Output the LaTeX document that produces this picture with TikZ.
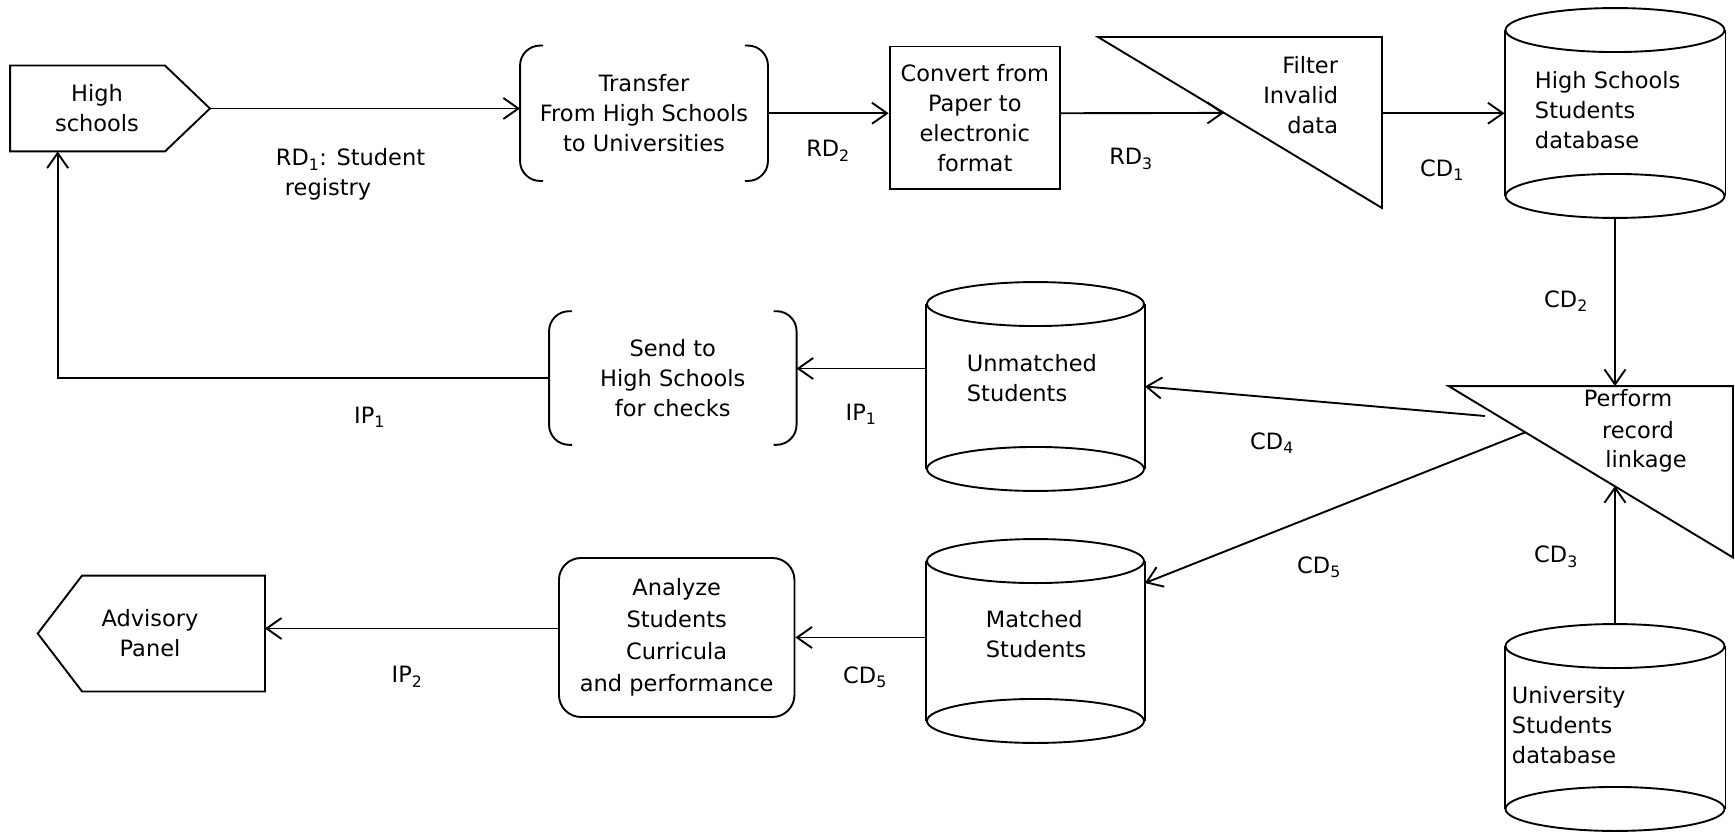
\documentclass[tikz,border=0pt]{standalone}
\usepackage{fontspec}
\setmainfont{DejaVu Sans}
\usetikzlibrary{arrows.meta,calc}
\begin{document}
\begin{tikzpicture}[x=1pt,y=-1pt,line width=1.9pt,
  every node/.style={font=\fontsize{22.5}{30}\selectfont,inner sep=0pt},
  arr/.style={-{Straight Barb[length=15pt,width=21pt,line width=1.9pt]}},
  shp/.style 2 args={minimum width=#1,minimum height=#2}]
\useasboundingbox (0,0) rectangle (1735,832);

% ---- shapes (named outlines) ----
\node[shp={198pt}{84pt}] (hs) at (110,108.5) {};
\node[shp={246pt}{133.5pt}] (tr) at (644,113.25) {};
\node[shp={170.4pt}{142.5pt},draw,align=center] (conv) at (974.8,117.75)
  {Convert from\\Paper to\\electronic\\format};
\node[shp={282pt}{169pt}] (filter) at (1240,122.5) {};
\node[shp={219pt}{164pt}] (hsdb) at (1615,113) {};
\node[shp={282.5pt}{169.5pt}] (perf) at (1590.75,471.75) {};
\node[shp={219pt}{161pt}] (unidb) at (1615,727.5) {};
\node[shp={217pt}{163pt}] (unm) at (1035.5,386.5) {};
\node[shp={217pt}{158pt}] (mat) at (1035.5,641) {};
\node[shp={245.6pt}{131.7pt},align=center] (send) at (672.8,378)
  {Send to\\High Schools\\for checks};
\node[shp={235.5pt}{159pt},draw,rounded corners=22pt,align=center,
  font=\fontsize{22.5}{32}\selectfont] (ana) at (676.7,637.5)
  {Analyze\\Students\\Curricula\\and performance};
\node[shp={228pt}{114pt},align=center] (adv) at (150,633.5) {Advisory\\Panel};

% external entities
\draw (hs.north west) -- ([xshift=-45pt]hs.north east) -- (hs.east)
  -- ([xshift=-45pt]hs.south east) -- (hs.south west) -- cycle;
\node[align=center] (hstext) at (97,108.5) {High\\schools};
\draw ([xshift=2.7pt]adv.west) -- ([xshift=47pt]adv.north west) -- (adv.north east)
  -- (adv.south east) -- ([xshift=47pt]adv.south west) -- cycle;

% bracketed processes
\foreach \n in {tr,send}{
  \draw[rounded corners=20pt] ([xshift=23pt]\n.north west) -- (\n.north west)
    -- (\n.south west) -- ([xshift=23pt]\n.south west);
  \draw[rounded corners=20pt] ([xshift=-23pt]\n.north east) -- (\n.north east)
    -- (\n.south east) -- ([xshift=-23pt]\n.south east);
}
\node[align=center] (trtext) at (644,113.25) {Transfer\\From High Schools\\to Universities};

% triangular processes
\foreach \n in {filter,perf}
  \draw (\n.north west) -- (\n.north east) -- (\n.south east) -- cycle;
\node[align=right,anchor=east] (filtertext) at (1339,95) {Filter\\Invalid\\data};
\node (pf1) at (1628,398) {Perform};
\node (pf2) at (1638,430) {record};
\node (pf3) at (1646,461) {linkage};

% data stores
\foreach \n/\r in {hsdb/109.5pt,unidb/109.5pt,unm/108.5pt,mat/108.5pt}{
  \draw (\n.north west) -- (\n.south west) (\n.north east) -- (\n.south east);
  \draw (\n.north) ellipse [x radius=\r,y radius=22pt];
  \draw (\n.south) ellipse [x radius=\r,y radius=22pt];
}
\node[align=left,anchor=west] (hsdbtext) at (1534,110) {High Schools\\Students\\database};
\node[align=left,anchor=west] (unmtext) at (966,378) {Unmatched\\Students};
\node[align=left,anchor=west] (mattext) at (985,634) {Matched\\Students};
\node[align=left,anchor=west] (unitext) at (1511,725) {University\\Students\\database};

% ---- connectors ----
\coordinate (fdiag) at ($(filter.north west)!0.4438!(filter.south east)$);
\coordinate (pdiag) at ($(perf.north west)!0.5835!(perf.south east)$);
\coordinate (mdiag) at ($(perf.north west)!0.27!(perf.south east)$);
\coordinate (ufree) at (1485,416);
\coordinate (corner) at ([xshift=47.6pt]hs.south west |- send.west);

\draw[arr] (hs.east) -- (hs.east -| tr.west);
\draw[arr] (tr.east) -- (tr.east -| conv.west);
\draw[arr] (tr.east -| conv.east) -- (fdiag);
\draw[arr] (tr.east -| filter.east) -- (tr.east -| hsdb.west);
\draw[arr] ([yshift=-22pt]hsdb.south) -- (hsdb.south |- perf.north);
\draw[arr] ([yshift=22pt]unidb.north) -- (unidb.north |- pdiag);
\draw[arr] (ufree) -- (unm.east);
\draw[arr] (mdiag) -- ([yshift=-22pt]mat.north east);
\draw[arr] ([yshift=18pt]unm.west) -- ([yshift=18pt]unm.west -| send.east);
\draw[arr] (send.west) -- (corner) -- ([xshift=47.6pt]hs.south west);
\draw[arr] (mat.west |- ana.east) -- (ana.east);
\draw[arr] ([yshift=9pt]ana.west) -- ([yshift=9pt]ana.west -| adv.east);

% ---- flow labels ----
\node[align=left,anchor=west] (rd1) at (275,174.5)
  {RD\textsubscript{1}: Student\\\hspace*{9pt}registry};
\node (rd2) at (828,151) {RD\textsubscript{2}};
\node (rd3) at (1131,159) {RD\textsubscript{3}};
\node (cd1) at (1442,170) {CD\textsubscript{1}};
\node (cd2) at (1566,301) {CD\textsubscript{2}};
\node (cd3) at (1556,557) {CD\textsubscript{3}};
\node (cd4) at (1272,443) {CD\textsubscript{4}};
\node (cd5a) at (1319,567) {CD\textsubscript{5}};
\node (cd5b) at (865,677) {CD\textsubscript{5}};
\node (ip1a) at (861,414) {IP\textsubscript{1}};
\node (ip1b) at (369.6,417) {IP\textsubscript{1}};
\node (ip2) at (407,677) {IP\textsubscript{2}};
\end{tikzpicture}
\end{document}
